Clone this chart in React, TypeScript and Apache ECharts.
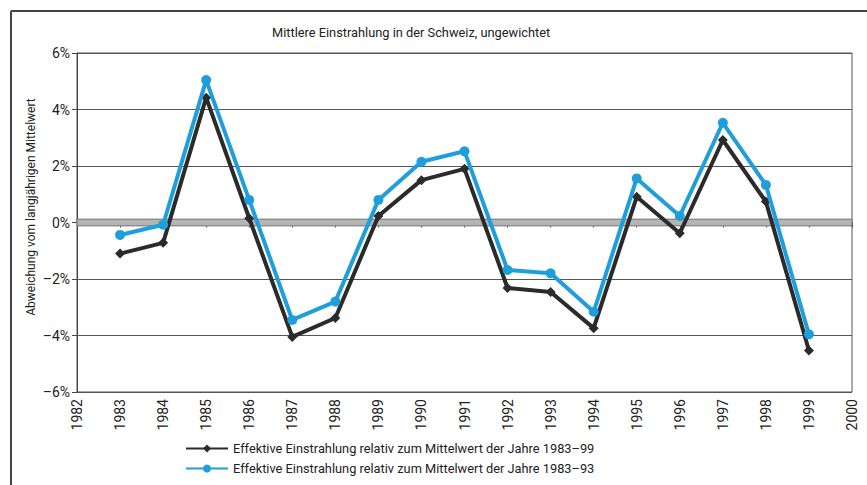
import React, { useEffect, useRef } from "react";
import * as echarts from "echarts";

const years = [1983, 1984, 1985, 1986, 1987, 1988, 1989, 1990, 1991, 1992, 1993, 1994, 1995, 1996, 1997, 1998, 1999];
const values8399 = [-1.1, -0.72, 4.42, 0.15, -4.05, -3.38, 0.23, 1.5, 1.9, -2.32, -2.46, -3.74, 0.91, -0.38, 2.92, 0.74, -4.53];
const values8393 = [-0.44, -0.08, 5.04, 0.8, -3.45, -2.8, 0.8, 2.15, 2.52, -1.68, -1.8, -3.16, 1.56, 0.23, 3.53, 1.33, -3.96];
const seriesNames = [
  "Effektive Einstrahlung relativ zum Mittelwert der Jahre 1983–99",
  "Effektive Einstrahlung relativ zum Mittelwert der Jahre 1983–93",
];
const titleText = "Mittlere Einstrahlung in der Schweiz, ungewichtet";
const yAxisTitle = "Abweichung vom langjährigen Mittelwert";

const FONT = "Roboto, 'Noto Sans', sans-serif";

export default function App() {
  const ref = useRef<HTMLDivElement>(null);
  useEffect(() => {
    document.body.style.margin = "0";
    const chart = echarts.init(ref.current!, null, { renderer: "svg" });
    chart.setOption({
      animation: false,
      backgroundColor: "#ffffff",
      textStyle: { fontFamily: FONT },
      grid: {
        left: 77,
        right: 15,
        top: 53,
        bottom: 93,
        show: true,
        borderColor: "#555",
        borderWidth: 1,
      },
      xAxis: {
        type: "value",
        min: 1982,
        max: 2000,
        interval: 1,
        axisLine: { show: true, lineStyle: { color: "#444", width: 1 } },
        axisTick: { show: true, length: 5, lineStyle: { color: "#444" } },
        splitLine: { show: false },
        axisLabel: {
          rotate: 90,
          formatter: (v: number) => String(v),
          color: "#222",
          fontSize: 14,
          fontFamily: FONT,
          margin: 7,
        },
      },
      yAxis: {
        type: "value",
        min: -6,
        max: 6,
        interval: 2,
        axisLine: { show: true, lineStyle: { color: "#444", width: 1 } },
        axisTick: { show: true, length: 5, lineStyle: { color: "#444" } },
        splitLine: { show: true, lineStyle: { color: "#555", width: 1 } },
        axisLabel: {
          formatter: (v: number) => (v < 0 ? "–" + Math.abs(v) + "%" : v + "%"),
          color: "#222",
          fontSize: 14,
          fontFamily: FONT,
          margin: 7,
        },
      },
      legend: {
        orient: "vertical",
        left: 180,
        top: 437,
        itemWidth: 42,
        itemHeight: 10,
        itemGap: 7,
        textStyle: { color: "#222", fontSize: 12.8, fontFamily: FONT },
        data: seriesNames,
      },
      graphic: [
        { type: "line", shape: { x1: 11, y1: 11, x2: 11, y2: 485 }, style: { stroke: "#444", lineWidth: 2 } },
        { type: "line", shape: { x1: 11, y1: 11, x2: 867, y2: 11 }, style: { stroke: "#444", lineWidth: 2 } },
        {
          type: "text",
          left: 272,
          top: 26,
          style: { text: titleText, fill: "#222", fontSize: 12.8, fontFamily: FONT },
        },
        {
          type: "text",
          x: 31,
          y: 207,
          rotation: Math.PI / 2,
          style: {
            text: yAxisTitle,
            fill: "#222",
            fontSize: 12,
            fontFamily: FONT,
            align: "center",
            verticalAlign: "middle",
          },
        },
      ],
      series: [
        {
          name: seriesNames[0],
          type: "line",
          data: years.map((y, i) => [y, values8399[i]]),
          symbol: "diamond",
          symbolSize: 10,
          lineStyle: { color: "#2b2b2b", width: 4 },
          itemStyle: { color: "#2b2b2b" },
          z: 3,
          markArea: {
            silent: true,
            itemStyle: { color: "#b5b5b5", borderColor: "#777", borderWidth: 1 },
            data: [[{ yAxis: -0.12 }, { yAxis: 0.12 }]],
            z: 1,
          },
        },
        {
          name: seriesNames[1],
          type: "line",
          data: years.map((y, i) => [y, values8393[i]]),
          symbol: "circle",
          symbolSize: 10,
          lineStyle: { color: "#1e9fdc", width: 4 },
          itemStyle: { color: "#1e9fdc" },
          z: 4,
        },
      ],
    });
    return () => chart.dispose();
  }, []);
  return <div ref={ref} style={{ width: 867, height: 485 }} />;
}
